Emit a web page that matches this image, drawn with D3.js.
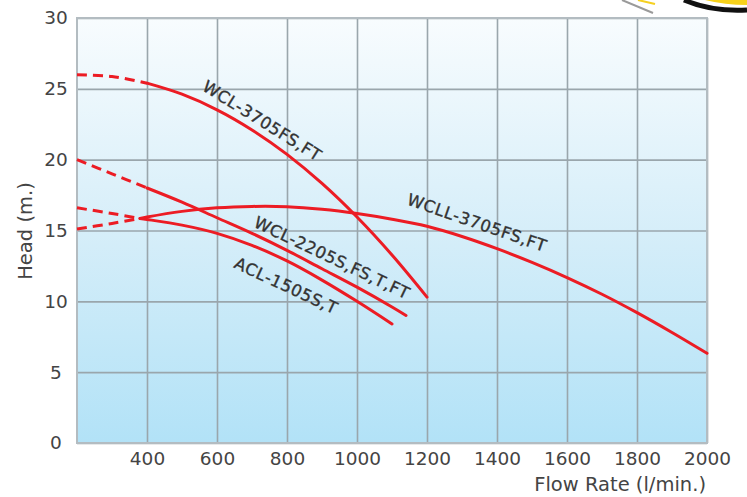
<!DOCTYPE html>
<html><head><meta charset="utf-8">
<script src="https://cdn.jsdelivr.net/npm/d3@7"></script>
<style>
body{margin:0;background:#fff;}
svg{display:block;}
text{font-family:"DejaVu Sans",Verdana,sans-serif;}
</style>
</head><body>
<svg id="chart" width="747" height="497"></svg>
<script>
// ---------- data ----------
const xTicks = [400, 600, 800, 1000, 1200, 1400, 1600, 1800, 2000];
const yTicks = [0, 5, 10, 15, 20, 25, 30];
const xTitle = "Flow Rate (l/min.)";
const yTitle = "Head (m.)";

const wcl3705Name = "WCL-3705FS,FT";
const wcl3705Flow = [200, 300, 400, 500, 600, 700, 800, 900, 1000, 1100, 1200];
const wcl3705Head = [26.0, 25.87, 25.4, 24.62, 23.52, 22.1, 20.37, 18.32, 15.95, 13.27, 10.3];
const wcl3705DashEnd = 400;

const wcl2205Name = "WCL-2205S,FS,T,FT";
const wcl2205Flow = [200, 300, 400, 500, 600, 700, 800, 900, 1000, 1100, 1140];
const wcl2205Head = [20.0, 19.0, 18.0, 17.0, 15.9, 14.8, 13.6, 12.3, 11.0, 9.6, 9.0];
const wcl2205DashEnd = 400;

const wcll3705Name = "WCLL-3705FS,FT";
const wcll3705Flow = [200, 300, 380, 400, 500, 600, 700, 800, 900, 1000, 1100, 1200, 1300, 1400, 1500, 1600, 1700, 1800, 1900, 2000];
const wcll3705Head = [15.1, 15.5, 15.85, 15.95, 16.35, 16.6, 16.7, 16.68, 16.5, 16.2, 15.8, 15.3, 14.58, 13.72, 12.75, 11.68, 10.5, 9.2, 7.8, 6.33];
const wcll3705DashEnd = 380;

const acl1505Name = "ACL-1505S,T";
const acl1505Flow = [200, 300, 380, 400, 500, 600, 700, 800, 900, 1000, 1100];
const acl1505Head = [16.6, 16.2, 15.85, 15.78, 15.38, 14.8, 13.95, 12.85, 11.5, 10.0, 8.4];
const acl1505DashEnd = 380;

// ---------- layout ----------
const svg = d3.select("#chart");
const L = 77, R = 707, T = 18, B = 443;
const x = d3.scaleLinear().domain([200, 2000]).range([L, R]);
const y = d3.scaleLinear().domain([0, 30]).range([B, T]);

const defs = svg.append("defs");
const grad = defs.append("linearGradient").attr("id", "bg").attr("x1", 0).attr("y1", 0).attr("x2", 0).attr("y2", 1);
grad.append("stop").attr("offset", "0%").attr("stop-color", "#f8fcfe");
grad.append("stop").attr("offset", "50%").attr("stop-color", "#d6eef9");
grad.append("stop").attr("offset", "100%").attr("stop-color", "#b2e2f7");

// decorative logo fragment, top right
svg.append("path").attr("d", "M705,0 Q725,5 747,5 L747,0 Z").attr("fill", "#f7d21b");
svg.append("path").attr("d", "M684,0 Q712,12 747,10").attr("fill", "none").attr("stroke", "#111").attr("stroke-width", 5);
svg.append("path").attr("d", "M622,0 L653,13").attr("stroke", "#9a9a9a").attr("stroke-width", 2);
svg.append("path").attr("d", "M638,0 L655,4").attr("stroke", "#f5d020").attr("stroke-width", 2);

svg.append("rect").attr("x", L).attr("y", T).attr("width", R - L).attr("height", B - T).attr("fill", "url(#bg)");

// grid via axes
const gx = svg.append("g").attr("transform", `translate(0,${B})`)
  .call(d3.axisBottom(x).tickValues(xTicks).tickSize(-(B - T)).tickFormat(""));
gx.select(".domain").remove();
gx.selectAll("line").attr("stroke", "#9aa6ac").attr("stroke-width", 1.6);

const gy = svg.append("g").attr("transform", `translate(${L},0)`)
  .call(d3.axisLeft(y).tickValues(yTicks).tickSize(-(R - L)).tickFormat(""));
gy.select(".domain").remove();
gy.selectAll("line").attr("stroke", "#9aa6ac").attr("stroke-width", 1.6);

svg.append("rect").attr("x", L).attr("y", T).attr("width", R - L).attr("height", B - T)
  .attr("fill", "none").attr("stroke", "#b3bcc1").attr("stroke-width", 2);

// tick labels
const lx = svg.append("g").attr("transform", `translate(0,${B})`)
  .call(d3.axisBottom(x).tickValues(xTicks).tickSize(0).tickPadding(9).tickFormat(d3.format("d")));
lx.select(".domain").remove();
lx.selectAll("text").attr("font-size", 18.5).attr("fill", "#444").attr("font-family", "DejaVu Sans");

const ly = svg.append("g").attr("transform", `translate(${L},0)`)
  .call(d3.axisLeft(y).tickValues(yTicks).tickSize(0).tickPadding(0).tickFormat(d3.format("d")));
ly.select(".domain").remove();
ly.selectAll("text").attr("font-size", 18.5).attr("fill", "#444").attr("font-family", "DejaVu Sans")
  .attr("text-anchor", "middle").attr("x", 56 - L);

// axis titles
svg.append("text").text(xTitle).attr("x", 706).attr("y", 491).attr("text-anchor", "end")
  .attr("font-size", 19.5).attr("fill", "#444");
svg.append("text").text(yTitle).attr("transform", "translate(32,231) rotate(-90)").attr("text-anchor", "middle")
  .attr("font-size", 19.5).attr("fill", "#444");

// curves
const seriesList = [
  {name: wcl3705Name, flow: wcl3705Flow, head: wcl3705Head, dashEnd: wcl3705DashEnd},
  {name: wcl2205Name, flow: wcl2205Flow, head: wcl2205Head, dashEnd: wcl2205DashEnd},
  {name: wcll3705Name, flow: wcll3705Flow, head: wcll3705Head, dashEnd: wcll3705DashEnd},
  {name: acl1505Name, flow: acl1505Flow, head: acl1505Head, dashEnd: acl1505DashEnd}
];
const line = d3.line().x(d => x(d[0])).y(d => y(d[1])).curve(d3.curveCatmullRom.alpha(0.5));
const curves = svg.append("g");
seriesList.forEach(s => {
  const pts = s.flow.map((f, i) => [f, s.head[i]]);
  const dashed = pts.filter(p => p[0] <= s.dashEnd);
  const solid = pts.filter(p => p[0] >= s.dashEnd);
  curves.append("path").attr("d", line(dashed)).attr("fill", "none").attr("stroke", "#ec1c24")
    .attr("stroke-width", 3).attr("stroke-dasharray", "10,6");
  curves.append("path").attr("d", line(solid)).attr("fill", "none").attr("stroke", "#ec1c24")
    .attr("stroke-width", 3).attr("stroke-linecap", "round");
});

// curve labels
const labels = [
  {text: wcl3705Name, cx: 262, cy: 121, a: 32},
  {text: wcl2205Name, cx: 332, cy: 258, a: 25.5},
  {text: acl1505Name, cx: 286, cy: 286, a: 25},
  {text: wcll3705Name, cx: 477, cy: 223, a: 19}
];
svg.append("g").selectAll("text").data(labels).join("text")
  .text(d => d.text)
  .attr("transform", d => `translate(${d.cx},${d.cy}) rotate(${d.a})`)
  .attr("text-anchor", "middle").attr("dominant-baseline", "central")
  .attr("font-size", 16.5).attr("letter-spacing", 0.6).attr("fill", "#333")
  .attr("stroke", "#333").attr("stroke-width", 0.35);
</script>
</body></html>
